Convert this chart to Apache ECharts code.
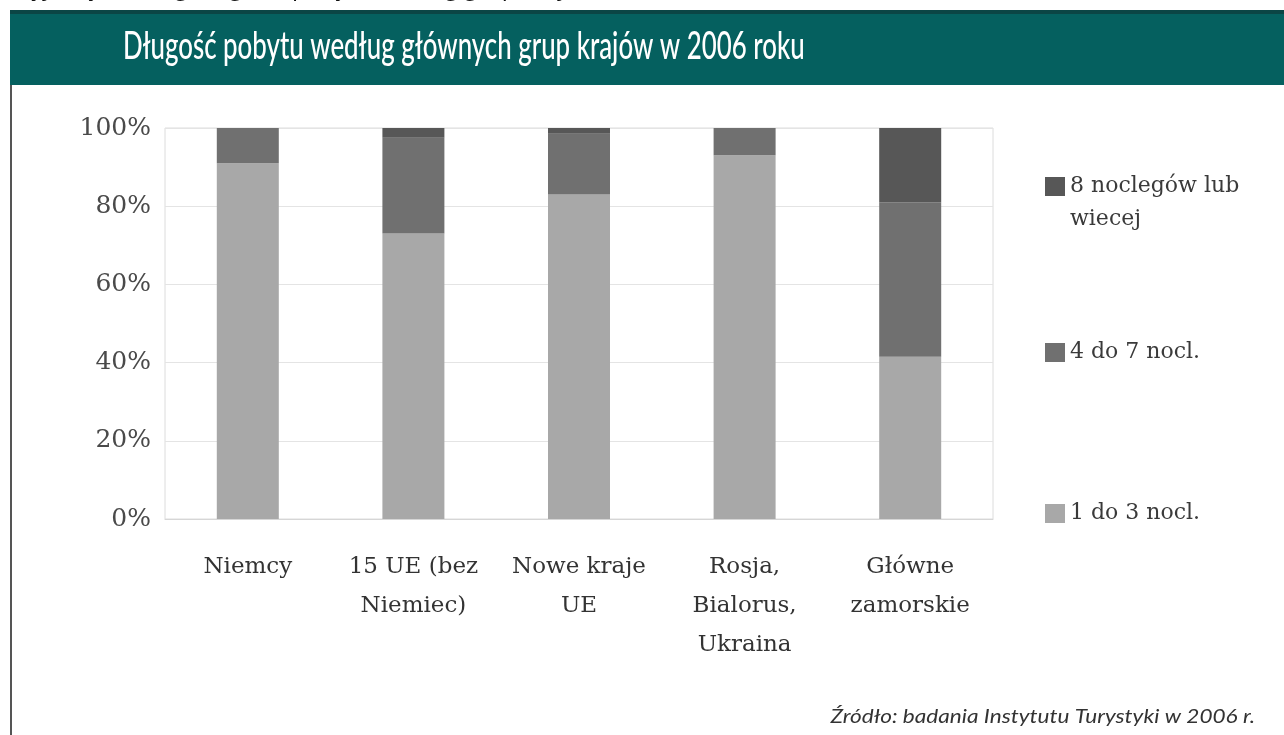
<!DOCTYPE html>
<html>
<head>
<meta charset="utf-8">
<script src="https://cdn.jsdelivr.net/npm/echarts@6/dist/echarts.min.js"></script>
<style>
  html, body { margin: 0; padding: 0; background: #ffffff; }
  #chart { width: 1284px; height: 735px; }
</style>
</head>
<body>
<div id="chart"></div>
<script>
// Country groups (x axis)
const categories = [
  'Niemcy',
  '15 UE (bez\nNiemiec)',
  'Nowe kraje\nUE',
  'Rosja,\nBialorus,\nUkraina',
  'Główne\nzamorskie'
];
// Share of stays by length, percent
const nights1to3 = [91, 73, 83, 93, 41.5];
const nights4to7 = [9, 24.5, 15.5, 7, 39.5];
const nights8plus = [0, 2.5, 1.5, 0, 19];
const seriesNames = ['1 do 3 nocl.', '4 do 7 nocl.', '8 noclegów lub wiecej'];
const yTicks = [0, 20, 40, 60, 80, 100];

const titleText = 'Długość pobytu według głównych grup krajów w 2006 roku';
const sourceText = 'Źródło: badania Instytutu Turystyki w 2006 r.';
const pageText = 'Przyjazdy według długości pobytu według grup krajów';

const colors = ['#a8a8a8', '#707070', '#575757'];
const serif = '"DejaVu Serif", "Liberation Serif", serif';

const chart = echarts.init(document.getElementById('chart'), null, { renderer: 'canvas' });

function legendBlock(name, top, label) {
  return {
    data: [{ name: name, icon: 'rect' }],
    orient: 'vertical',
    left: 1040,
    top: top,
    itemWidth: 20,
    itemHeight: 19,
    selectedMode: false,
    formatter: () => label,
    textStyle: { fontFamily: serif, fontSize: 22, color: '#3a3a3a', lineHeight: 33 }
  };
}

const option = {
  backgroundColor: '#ffffff',
  animation: false,
  color: colors,
  grid: {
    left: 165, right: 291, top: 128, bottom: 216,
    show: true, borderColor: '#dcdcdc', borderWidth: 1
  },
  legend: [
    legendBlock(seriesNames[2], 132, ' \n8 noclegów lub\nwiecej'),
    legendBlock(seriesNames[1], 331, seriesNames[1]),
    legendBlock(seriesNames[0], 492, seriesNames[0])
  ],
  xAxis: {
    type: 'category',
    data: categories,
    axisLine: { show: true, lineStyle: { color: '#d6d6d6', width: 1 } },
    axisTick: { show: false },
    axisLabel: {
      margin: 29, interval: 0,
      fontFamily: serif, fontSize: 23, color: '#333333', lineHeight: 39
    }
  },
  yAxis: {
    type: 'value',
    min: yTicks[0], max: yTicks[yTicks.length - 1], interval: 20,
    axisLine: { show: false },
    axisTick: { show: false },
    splitLine: { lineStyle: { color: '#e4e4e4', width: 1 } },
    axisLabel: {
      margin: 14,
      formatter: '{value}%',
      fontFamily: serif, fontSize: 25, color: '#4a4a4a'
    }
  },
  series: [
    { name: seriesNames[0], type: 'bar', stack: 'all', barWidth: 62, data: nights1to3, itemStyle: { color: colors[0] } },
    { name: seriesNames[1], type: 'bar', stack: 'all', barWidth: 62, data: nights4to7, itemStyle: { color: colors[1] } },
    { name: seriesNames[2], type: 'bar', stack: 'all', barWidth: 62, data: nights8plus, itemStyle: { color: colors[2] } }
  ],
  graphic: [
    // running text of the page, cut off at the top edge
    {
      type: 'text', left: -4, top: -24, silent: true,
      style: { text: pageText, font: '24px "Open Sans", sans-serif', fill: '#111' }
    },
    // teal header band
    { type: 'rect', shape: { x: 10, y: 10, width: 1274, height: 75 }, style: { fill: '#05605f' }, silent: true },
    { type: 'rect', shape: { x: 10, y: 10, width: 1274, height: 4 }, style: { fill: '#0b4545' }, silent: true },
    {
      type: 'text', x: 123, y: 47, scaleX: 0.68, silent: true,
      style: {
        text: titleText, fill: '#ffffff',
        font: '500 38px Lato, "Open Sans", sans-serif',
        textVerticalAlign: 'middle', textAlign: 'left'
      }
    },
    // left frame line
    { type: 'rect', shape: { x: 10, y: 85, width: 2, height: 650 }, style: { fill: '#555555' }, silent: true },
    // source note
    {
      type: 'text', x: 1255, y: 717, scaleX: 1.13, silent: true,
      style: {
        text: sourceText, fill: '#333333',
        font: 'italic 20px Lato, "Open Sans", sans-serif',
        textAlign: 'right', textVerticalAlign: 'middle'
      }
    }
  ]
};

chart.setOption(option);
</script>
</body>
</html>
